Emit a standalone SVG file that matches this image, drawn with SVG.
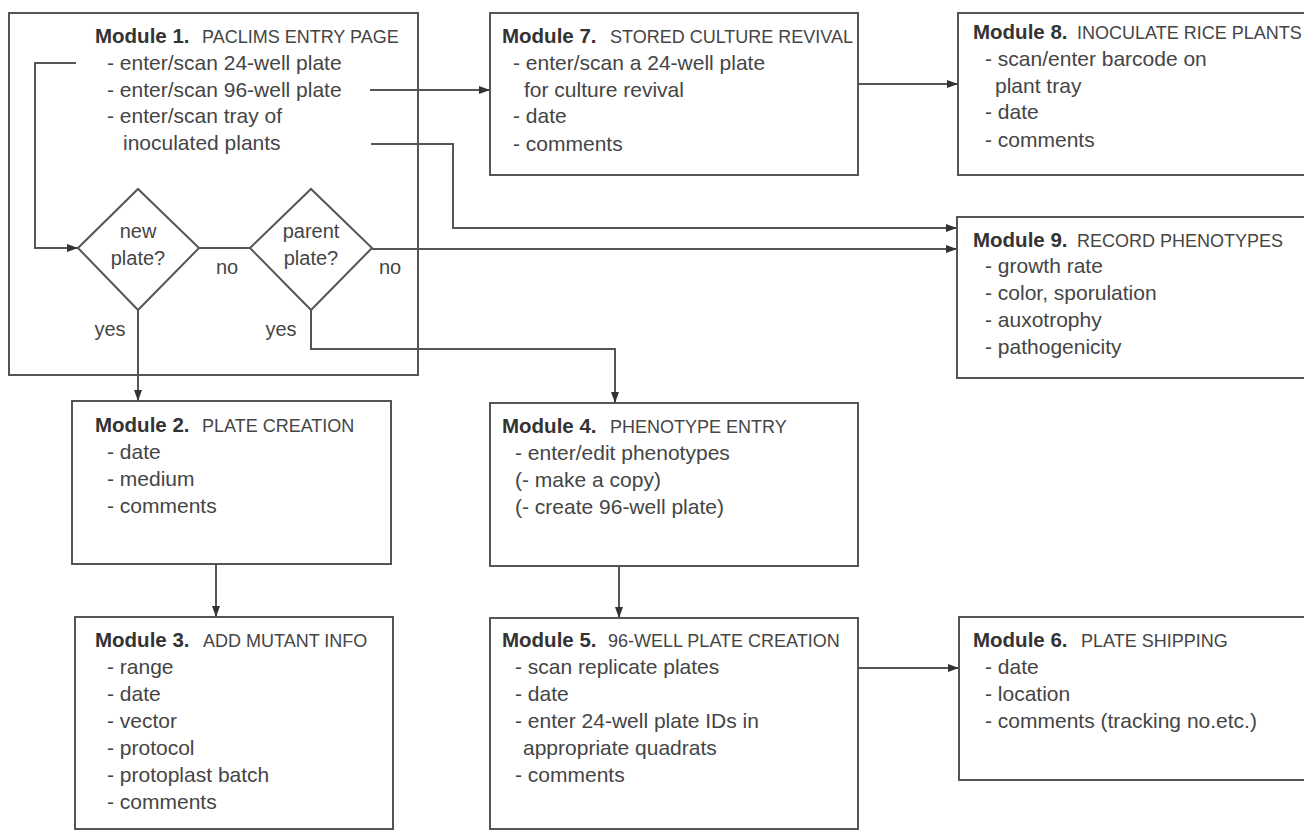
<svg xmlns="http://www.w3.org/2000/svg" width="1304" height="831" viewBox="0 0 1304 831">
<style>
.box{fill:#fff;stroke:#555;stroke-width:2}
.dia{fill:#fff;stroke:#555;stroke-width:2}
.ln{fill:none;stroke:#555;stroke-width:2}
text{font-family:"Liberation Sans",Arial,sans-serif;font-size:21px;fill:#454545}
.b{font-weight:bold;fill:#333;font-size:20.5px}
.u{font-size:18px}
.c{text-anchor:middle;font-size:20px}
</style>
<defs>
<marker id="ah" markerUnits="userSpaceOnUse" markerWidth="12" markerHeight="10" refX="11" refY="5" orient="auto">
<path d="M0,1 L11,5 L0,9 z" fill="#333"/>
</marker>
</defs>
<rect width="1304" height="831" fill="#fff"/>

<g id="module1">
<rect class="box" x="9" y="13" width="409" height="362"/>
<text x="95" y="43"><tspan class="b">Module 1.</tspan><tspan class="u" x="202">PACLIMS ENTRY PAGE</tspan></text>
<text x="107" y="70">- enter/scan 24-well plate</text>
<text x="107" y="97">- enter/scan 96-well plate</text>
<text x="107" y="123">- enter/scan tray of</text>
<text x="123" y="150">inoculated plants</text>
</g>

<g id="decision-new">
<polygon class="dia" points="78,248 138,189 199,248 138,310"/>
<text class="c" x="138" y="238">new</text>
<text class="c" x="138" y="265">plate?</text>
</g>

<g id="decision-parent">
<polygon class="dia" points="250,248 311,189 372,248 311,310"/>
<text class="c" x="311" y="238">parent</text>
<text class="c" x="311" y="265">plate?</text>
</g>

<g id="module7">
<rect class="box" x="490" y="13" width="368" height="162"/>
<text x="502" y="43"><tspan class="b">Module 7.</tspan><tspan class="u" x="610">STORED CULTURE REVIVAL</tspan></text>
<text x="513" y="70">- enter/scan a 24-well plate</text>
<text x="524" y="97">for culture revival</text>
<text x="513" y="123">- date</text>
<text x="513" y="151">- comments</text>
</g>

<g id="module8">
<rect class="box" x="958" y="13" width="360" height="162"/>
<text x="973" y="39"><tspan class="b">Module 8.</tspan><tspan class="u" x="1077">INOCULATE RICE PLANTS</tspan></text>
<text x="985" y="66">- scan/enter barcode on</text>
<text x="995" y="93">plant tray</text>
<text x="985" y="119">- date</text>
<text x="985" y="147">- comments</text>
</g>

<g id="module9">
<rect class="box" x="957" y="217" width="360" height="161"/>
<text x="973" y="247"><tspan class="b">Module 9.</tspan><tspan class="u" x="1077">RECORD PHENOTYPES</tspan></text>
<text x="985" y="273">- growth rate</text>
<text x="985" y="300">- color, sporulation</text>
<text x="985" y="327">- auxotrophy</text>
<text x="985" y="354">- pathogenicity</text>
</g>

<g id="module2">
<rect class="box" x="72" y="401" width="319" height="163"/>
<text x="95" y="432"><tspan class="b">Module 2.</tspan><tspan class="u" x="202">PLATE CREATION</tspan></text>
<text x="107" y="459">- date</text>
<text x="107" y="486">- medium</text>
<text x="107" y="513">- comments</text>
</g>

<g id="module4">
<rect class="box" x="490" y="403" width="368" height="163"/>
<text x="502" y="433"><tspan class="b">Module 4.</tspan><tspan class="u" x="610">PHENOTYPE ENTRY</tspan></text>
<text x="515" y="460">- enter/edit phenotypes</text>
<text x="515" y="487">(- make a copy)</text>
<text x="515" y="514">(- create 96-well plate)</text>
</g>

<g id="module3">
<rect class="box" x="75" y="617" width="318" height="212"/>
<text x="95" y="647"><tspan class="b">Module 3.</tspan><tspan class="u" x="203">ADD MUTANT INFO</tspan></text>
<text x="107" y="674">- range</text>
<text x="107" y="701">- date</text>
<text x="107" y="728">- vector</text>
<text x="107" y="755">- protocol</text>
<text x="107" y="782">- protoplast batch</text>
<text x="107" y="809">- comments</text>
</g>

<g id="module5">
<rect class="box" x="490" y="618" width="368" height="211"/>
<text x="502" y="647"><tspan class="b">Module 5.</tspan><tspan class="u" x="608">96-WELL PLATE CREATION</tspan></text>
<text x="515" y="674">- scan replicate plates</text>
<text x="515" y="701">- date</text>
<text x="515" y="728">- enter 24-well plate IDs in</text>
<text x="523" y="755">appropriate quadrats</text>
<text x="515" y="782">- comments</text>
</g>

<g id="module6">
<rect class="box" x="959" y="617" width="360" height="163"/>
<text x="973" y="647"><tspan class="b">Module 6.</tspan><tspan class="u" x="1081">PLATE SHIPPING</tspan></text>
<text x="985" y="674">- date</text>
<text x="985" y="701">- location</text>
<text x="985" y="728">- comments (tracking no.etc.)</text>
</g>

<g id="connectors">
<polyline class="ln" points="76,63 35,63 35,248 78,248" marker-end="url(#ah)"/>
<line class="ln" x1="199" y1="248" x2="250" y2="248"/>
<polyline class="ln" points="372,249 957,249" marker-end="url(#ah)"/>
<polyline class="ln" points="371,144 453,144 453,228 957,228" marker-end="url(#ah)"/>
<line class="ln" x1="370" y1="90" x2="490" y2="90" marker-end="url(#ah)"/>
<line class="ln" x1="858" y1="84" x2="958" y2="84" marker-end="url(#ah)"/>
<line class="ln" x1="138" y1="310" x2="138" y2="401" marker-end="url(#ah)"/>
<polyline class="ln" points="311,310 311,349 615,349 615,403" marker-end="url(#ah)"/>
<line class="ln" x1="216" y1="564" x2="216" y2="617" marker-end="url(#ah)"/>
<line class="ln" x1="619" y1="566" x2="619" y2="618" marker-end="url(#ah)"/>
<line class="ln" x1="858" y1="668" x2="959" y2="668" marker-end="url(#ah)"/>
<text class="c" x="227" y="274">no</text>
<text class="c" x="390" y="274">no</text>
<text class="c" x="110" y="336">yes</text>
<text class="c" x="281" y="336">yes</text>
</g>
</svg>
